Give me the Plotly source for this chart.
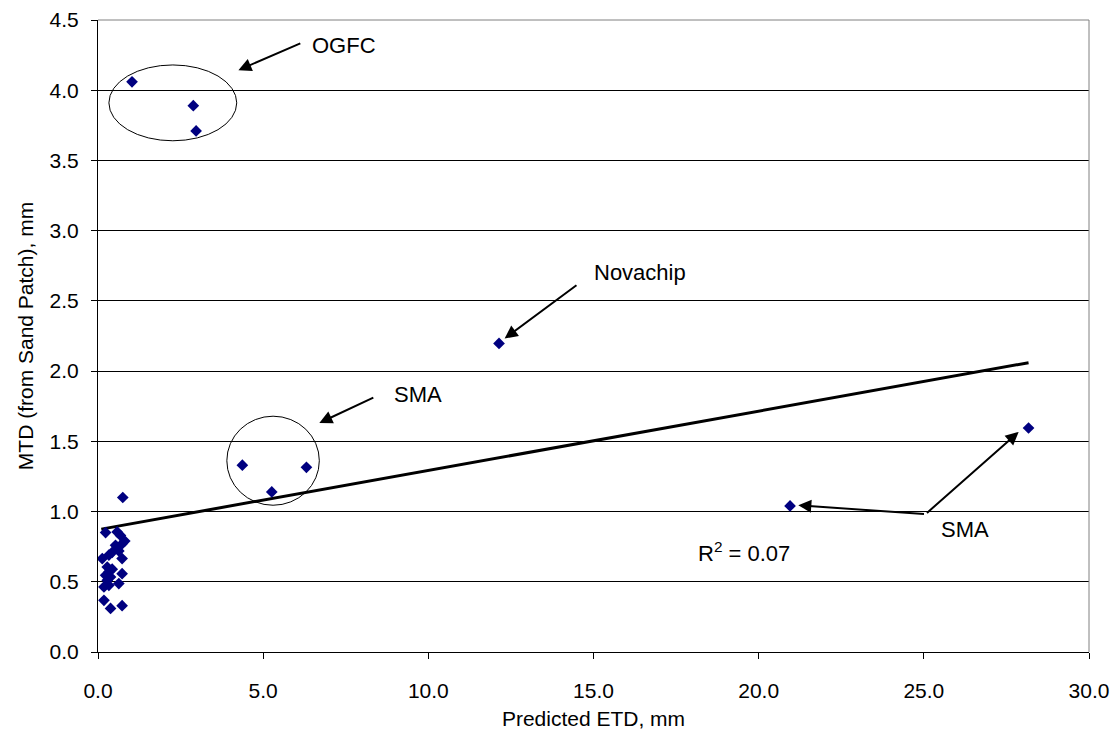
import plotly.graph_objects as go

# Data
etd = [1.03, 2.885, 2.97, 4.37, 5.26, 6.31, 12.14, 20.95, 28.17,
       0.75, 0.23, 0.58, 0.68, 0.81, 0.73, 0.53, 0.63, 0.43, 0.73,
       0.13, 0.33, 0.28, 0.43, 0.33, 0.23, 0.73, 0.38, 0.28, 0.63,
       0.33, 0.18, 0.18, 0.38, 0.73]
mtd = [4.06, 3.89, 3.71, 1.33, 1.14, 1.315, 2.197, 1.04, 1.595,
       1.10, 0.85, 0.855, 0.83, 0.79, 0.77, 0.76, 0.72, 0.71, 0.665,
       0.665, 0.69, 0.605, 0.59, 0.57, 0.546, 0.558, 0.534, 0.51, 0.487,
       0.475, 0.463, 0.368, 0.31, 0.33]

trend_x = [0.1, 28.17]
trend_y = [0.875, 2.06]

x_ticks = [0, 5, 10, 15, 20, 25, 30]
y_ticks = [0, 0.5, 1.0, 1.5, 2.0, 2.5, 3.0, 3.5, 4.0, 4.5]

FONT = "Liberation Sans, Arial, sans-serif"
FS = 21

fig = go.Figure()
fig.add_trace(go.Scatter(
    x=trend_x, y=trend_y, mode="lines",
    line=dict(color="black", width=3), showlegend=False, hoverinfo="skip"))
fig.add_trace(go.Scatter(
    x=etd, y=mtd, mode="markers",
    marker=dict(symbol="diamond", size=9, color="#000080"),
    showlegend=False))

# circles around groups
fig.add_shape(type="circle", xref="x", yref="y", x0=0.33, x1=4.2, y0=3.64, y1=4.18,
              line=dict(color="black", width=1))
fig.add_shape(type="circle", xref="x", yref="y", x0=3.90, x1=6.70, y0=1.045, y1=1.679,
              line=dict(color="black", width=1))

arrows = [
    ((6.17, 4.338), (4.25, 4.143)),
    ((14.53, 2.619), (12.31, 2.232)),
    ((8.38, 1.816), (6.70, 1.631)),
    ((25.05, 0.981), (21.20, 1.045)),
    ((25.05, 0.981), (27.87, 1.567)),
]
for (tx, ty), (hx, hy) in arrows:
    fig.add_annotation(x=hx, y=hy, ax=tx, ay=ty, xref="x", yref="y", axref="x", ayref="y",
                       text="", showarrow=True, arrowhead=2, arrowsize=1.3,
                       arrowwidth=2, arrowcolor="black", standoff=0, startstandoff=0)

labels = [
    ("OGFC", 6.42, 4.32),
    ("Novachip", 14.94, 2.70),
    ("SMA", 8.89, 1.83),
    ("SMA", 25.45, 0.874),
    ("R<sup>2</sup> = 0.07", 18.1, 0.71),
]
for t, x, y in labels:
    fig.add_annotation(x=x, y=y, xref="x", yref="y", text=t, showarrow=False,
                       xanchor="left", yanchor="middle",
                       font=dict(family=FONT, size=22, color="black"))

fig.update_xaxes(
    range=[0, 30], tickvals=x_ticks, tickformat=".1f",
    showgrid=False, zeroline=False,
    showline=True, linecolor="black", linewidth=1, mirror=False,
    ticks="outside", ticklen=6, tickcolor="black",
    ticklabelstandoff=14,
    tickfont=dict(family=FONT, size=FS, color="black"),
    title=dict(text="Predicted ETD, mm", standoff=10,
               font=dict(family=FONT, size=FS, color="black")),
)
fig.update_yaxes(
    range=[0, 4.5], tickvals=y_ticks, tickformat=".1f",
    showgrid=True, gridcolor="black", gridwidth=1, zeroline=False,
    showline=True, linecolor="black", linewidth=1,
    ticks="outside", ticklen=6, tickcolor="black",
    ticklabelstandoff=8,
    tickfont=dict(family=FONT, size=FS, color="black"),
    title=dict(text="MTD (from Sand Patch), mm", standoff=10,
               font=dict(family=FONT, size=FS, color="black")),
)
# plot-area border (gray) on top and right
fig.add_shape(type="line", xref="paper", yref="paper", x0=0, x1=1, y0=1, y1=1,
              line=dict(color="#808080", width=1))
fig.add_shape(type="line", xref="paper", yref="paper", x0=1, x1=1, y0=0, y1=1,
              line=dict(color="#808080", width=1))

fig.update_layout(
    width=1115, height=738,
    margin=dict(l=98, r=26, t=20, b=86, autoexpand=False),
    paper_bgcolor="white", plot_bgcolor="white",
    font=dict(family=FONT, size=FS, color="black"),
)
fig.write_html(
    "out.html",
    config={"displayModeBar": False},
    post_script="document.body.style.margin='0';document.body.style.overflow='hidden';",
)
